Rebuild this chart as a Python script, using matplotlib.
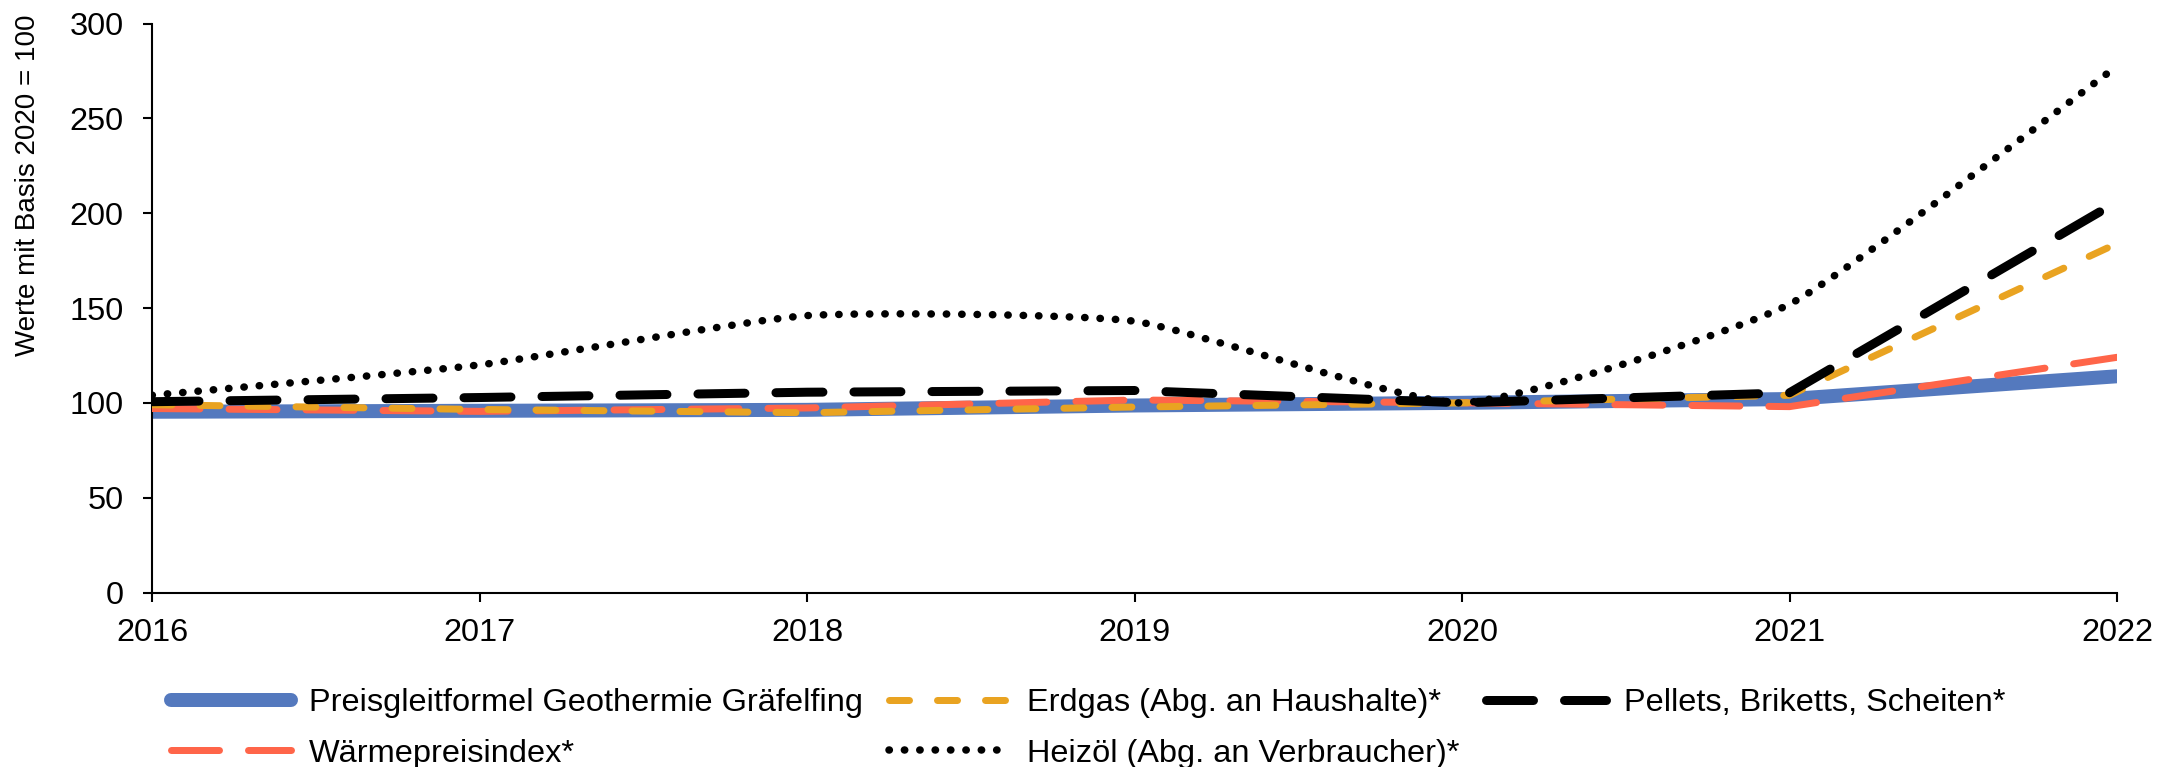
import numpy as np
import matplotlib.pyplot as plt
from matplotlib.path import Path
from matplotlib.patches import PathPatch
from matplotlib.lines import Line2D

plt.rcParams['font.family'] = ['Liberation Sans', 'DejaVu Sans']

# data (index, 2020 = 100)
years = [2016, 2017, 2018, 2019, 2020, 2021, 2022]
preisgleit = [95.3, 95.8, 96.3, 98.6, 100, 102, 114]
waerme = [97, 95.5, 97.3, 101.5, 100, 98, 124]
erdgas = [99, 96.5, 94.8, 97.8, 100, 104, 184]
heizoel = [104, 120, 146, 143, 100, 152, 277.5]
pellets = [100.6, 102.8, 105.6, 106.5, 100, 105.3, 206]

labels = ["Preisgleitformel Geothermie Gräfelfing",
          "Wärmepreisindex*",
          "Erdgas (Abg. an Haushalte)*",
          "Heizöl (Abg. an Verbraucher)*",
          "Pellets, Briketts, Scheiten*"]

c_blue = "#5479BE"
c_red = "#FF6549"
c_orange = "#E9A321"

W, H = 2165, 767
px = 72 / 100  # points per pixel
fs = 23.4

fig = plt.figure(figsize=(W / 100, H / 100), dpi=100)
ax = fig.add_axes([152 / W, 1 - 592.5 / H, 1965 / W, 569 / H])

# lines
l_blue, = ax.plot(years, preisgleit, color=c_blue, lw=14 * px,
                  solid_capstyle='round', zorder=2)
l_red, = ax.plot(years, waerme, color=c_red, lw=7 * px,
                 dashes=(48 / 7, 29 / 7), dash_capstyle='round', zorder=3)
l_orange, = ax.plot(years, erdgas, color=c_orange, lw=7 * px,
                    dashes=(20 / 7, 28 / 7), dash_capstyle='round', zorder=4)

# smoothed line for heating oil (bezier through the yearly values)
x = np.array(years, dtype=float)
y = np.array(heizoel, dtype=float)
n = len(x)
k = 12  # smoothing: control point offset = neighbour difference / k
verts = [(x[0], y[0])]
codes = [Path.MOVETO]
for i in range(n - 1):
    a = i - 1 if i > 0 else i
    b = i + 2 if i + 2 < n else i + 1
    c1 = (x[i] + (x[i + 1] - x[a]) / k, y[i] + (y[i + 1] - y[a]) / k)
    c2 = (x[i + 1] - (x[b] - x[i]) / k, y[i + 1] - (y[b] - y[i]) / k)
    verts += [c1, c2, (x[i + 1], y[i + 1])]
    codes += [Path.CURVE4] * 3
dot_style = (0, (0.05, 14 / 7))
oil = PathPatch(Path(verts, codes), fill=False, edgecolor='black',
                lw=7.5 * px, linestyle=dot_style, capstyle='round', zorder=5)
ax.add_patch(oil)
l_oil = Line2D([], [], color='black', lw=7.5 * px, linestyle=dot_style,
               dash_capstyle='round')

l_pellets, = ax.plot(years, pellets, color='black', lw=9 * px,
                     dashes=(47 / 9, 31 / 9), dash_capstyle='round', zorder=6)

# axes
ax.set_xlim(2016, 2022)
ax.set_ylim(0, 300)
ax.set_xticks(years)
ax.set_yticks(range(0, 301, 50))
for s in ['top', 'right']:
    ax.spines[s].set_visible(False)
for s in ['left', 'bottom']:
    ax.spines[s].set_linewidth(1.5)
ax.tick_params(axis='both', direction='out', length=6.5, width=1.5,
               labelsize=fs)
ax.tick_params(axis='y', pad=14)
ax.tick_params(axis='x', pad=12)

ax.set_ylabel("Werte mit Basis 2020 = 100", fontsize=20, va='center')
ax.yaxis.set_label_coords(-0.0631, 0.716)

# legend
ax.legend([l_blue, l_red, l_orange, l_oil, l_pellets], labels, ncol=3,
          loc='upper left', bbox_to_anchor=(171 / W, 1 - 688 / H),
          bbox_transform=fig.transFigure, frameon=False, fontsize=fs,
          handlelength=3.7, handletextpad=0.55, columnspacing=0.8,
          labelspacing=0.64, borderpad=0, borderaxespad=0)

fig.savefig("out.png", dpi=100)
